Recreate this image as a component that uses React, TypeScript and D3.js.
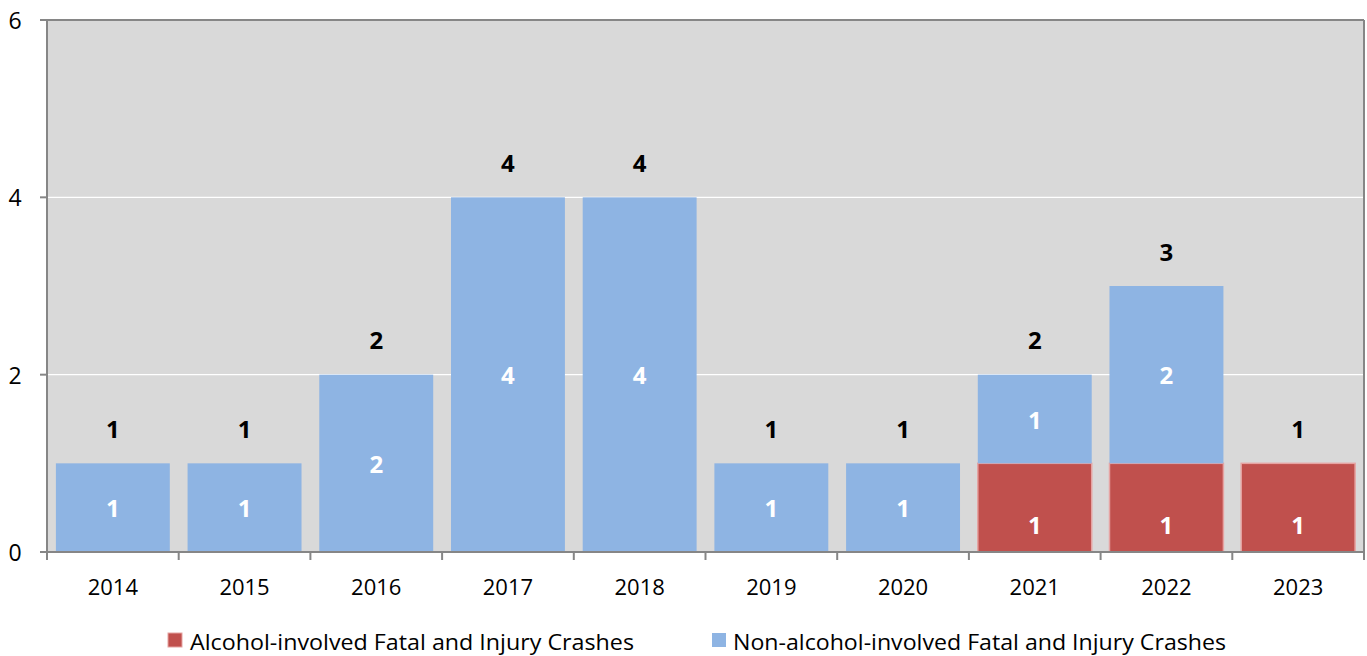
import React from "react";
import * as d3 from "d3";

const years = ["2014", "2015", "2016", "2017", "2018", "2019", "2020", "2021", "2022", "2023"];
const alcohol = [0, 0, 0, 0, 0, 0, 0, 1, 1, 1];
const nonAlcohol = [1, 1, 2, 4, 4, 1, 1, 1, 2, 0];
const yTicks = [0, 2, 4, 6];
const seriesNames = ["Alcohol-involved Fatal and Injury Crashes", "Non-alcohol-involved Fatal and Injury Crashes"];

const W = 1367, H = 656;
const M = { left: 47, right: 3, top: 20, bottom: 104 };
const RED = "#c0504d", BLUE = "#8eb4e3", BG = "#d9d9d9", AXIS = "#868686";
const FONT = "'Open Sans', sans-serif";

export default function App() {
  const x = d3.scaleBand().domain(years).range([M.left, W - M.right]).paddingInner(0.135).paddingOuter(0.0675);
  const y = d3.scaleLinear().domain([0, 6]).range([H - M.bottom, M.top]);
  const bandStep = x.step();
  const ticksX = years.map((_, i) => M.left + i * bandStep).concat([W - M.right]);
  return (
    <svg width={W} height={H} style={{ position: "absolute", left: 0, top: 0 }} fontFamily={FONT}>
      <rect x={M.left} y={M.top} width={W - M.right - M.left} height={y(0) - M.top} fill={BG} />
      {yTicks.filter(t => t > 0 && t < 6).map(t => (
        <line key={t} x1={M.left} x2={W - M.right} y1={y(t)} y2={y(t)} stroke="#ffffff" strokeWidth={1.2} />
      ))}
      <line x1={M.left - 7} x2={W - M.right} y1={M.top} y2={M.top} stroke={AXIS} strokeWidth={2} />
      <line x1={W - M.right} x2={W - M.right} y1={M.top} y2={y(0)} stroke={AXIS} strokeWidth={2} />
      {years.map((yr, i) => {
        const bx = x(yr)!;
        const bw = x.bandwidth();
        const a = alcohol[i], n = nonAlcohol[i];
        const total = a + n;
        return (
          <g key={yr}>
            {a > 0 && (
              <rect x={bx} y={y(a)} width={bw} height={y(0) - y(a)} fill={RED} stroke="#e6a3a2" strokeWidth={1.5} />
            )}
            {n > 0 && (
              <rect x={bx} y={y(a + n)} width={bw} height={y(a) - y(a + n)} fill={BLUE} />
            )}
            {a > 0 && (
              <text x={bx + bw / 2} y={y(0) - 28} textAnchor="middle" dominantBaseline="central" fill="#fff" fontWeight="bold" fontSize={24}>{a}</text>
            )}
            {n > 0 && (
              <text x={bx + bw / 2} y={(y(a) + y(a + n)) / 2} textAnchor="middle" dominantBaseline="central" fill="#fff" fontWeight="bold" fontSize={24}>{n}</text>
            )}
            <text x={bx + bw / 2} y={y(total) - 35} textAnchor="middle" dominantBaseline="central" fill="#000" fontWeight="bold" fontSize={24}>{total}</text>
            <text x={bx + bw / 2} y={586} textAnchor="middle" dominantBaseline="central" fill="#000" fontSize={22}>{yr}</text>
          </g>
        );
      })}
      <line x1={M.left} x2={M.left} y1={M.top} y2={y(0)} stroke={AXIS} strokeWidth={2} />
      <line x1={M.left - 7} x2={W - M.right} y1={y(0)} y2={y(0)} stroke={AXIS} strokeWidth={2} />
      {yTicks.map(t => (
        <g key={t}>
          <line x1={M.left - 7} x2={M.left} y1={y(t)} y2={y(t)} stroke={AXIS} strokeWidth={2} />
          <text x={15} y={y(t)} textAnchor="middle" dominantBaseline="central" fontSize={23} fill="#000">{t}</text>
        </g>
      ))}
      {ticksX.map((tx, i) => (
        <line key={i} x1={tx} x2={tx} y1={y(0)} y2={y(0) + 8} stroke={AXIS} strokeWidth={2} />
      ))}
      <g>
        <rect x={168} y={633} width={14} height={14} fill={RED} stroke="#e6a3a2" strokeWidth={1} />
        <text x={190} y={641} dominantBaseline="central" fontSize={22} fill="#000" textLength={444} lengthAdjust="spacingAndGlyphs">{seriesNames[0]}</text>
        <rect x={712} y={633} width={14} height={14} fill={BLUE} />
        <text x={733} y={641} dominantBaseline="central" fontSize={22} fill="#000" textLength={493} lengthAdjust="spacingAndGlyphs">{seriesNames[1]}</text>
      </g>
    </svg>
  );
}
